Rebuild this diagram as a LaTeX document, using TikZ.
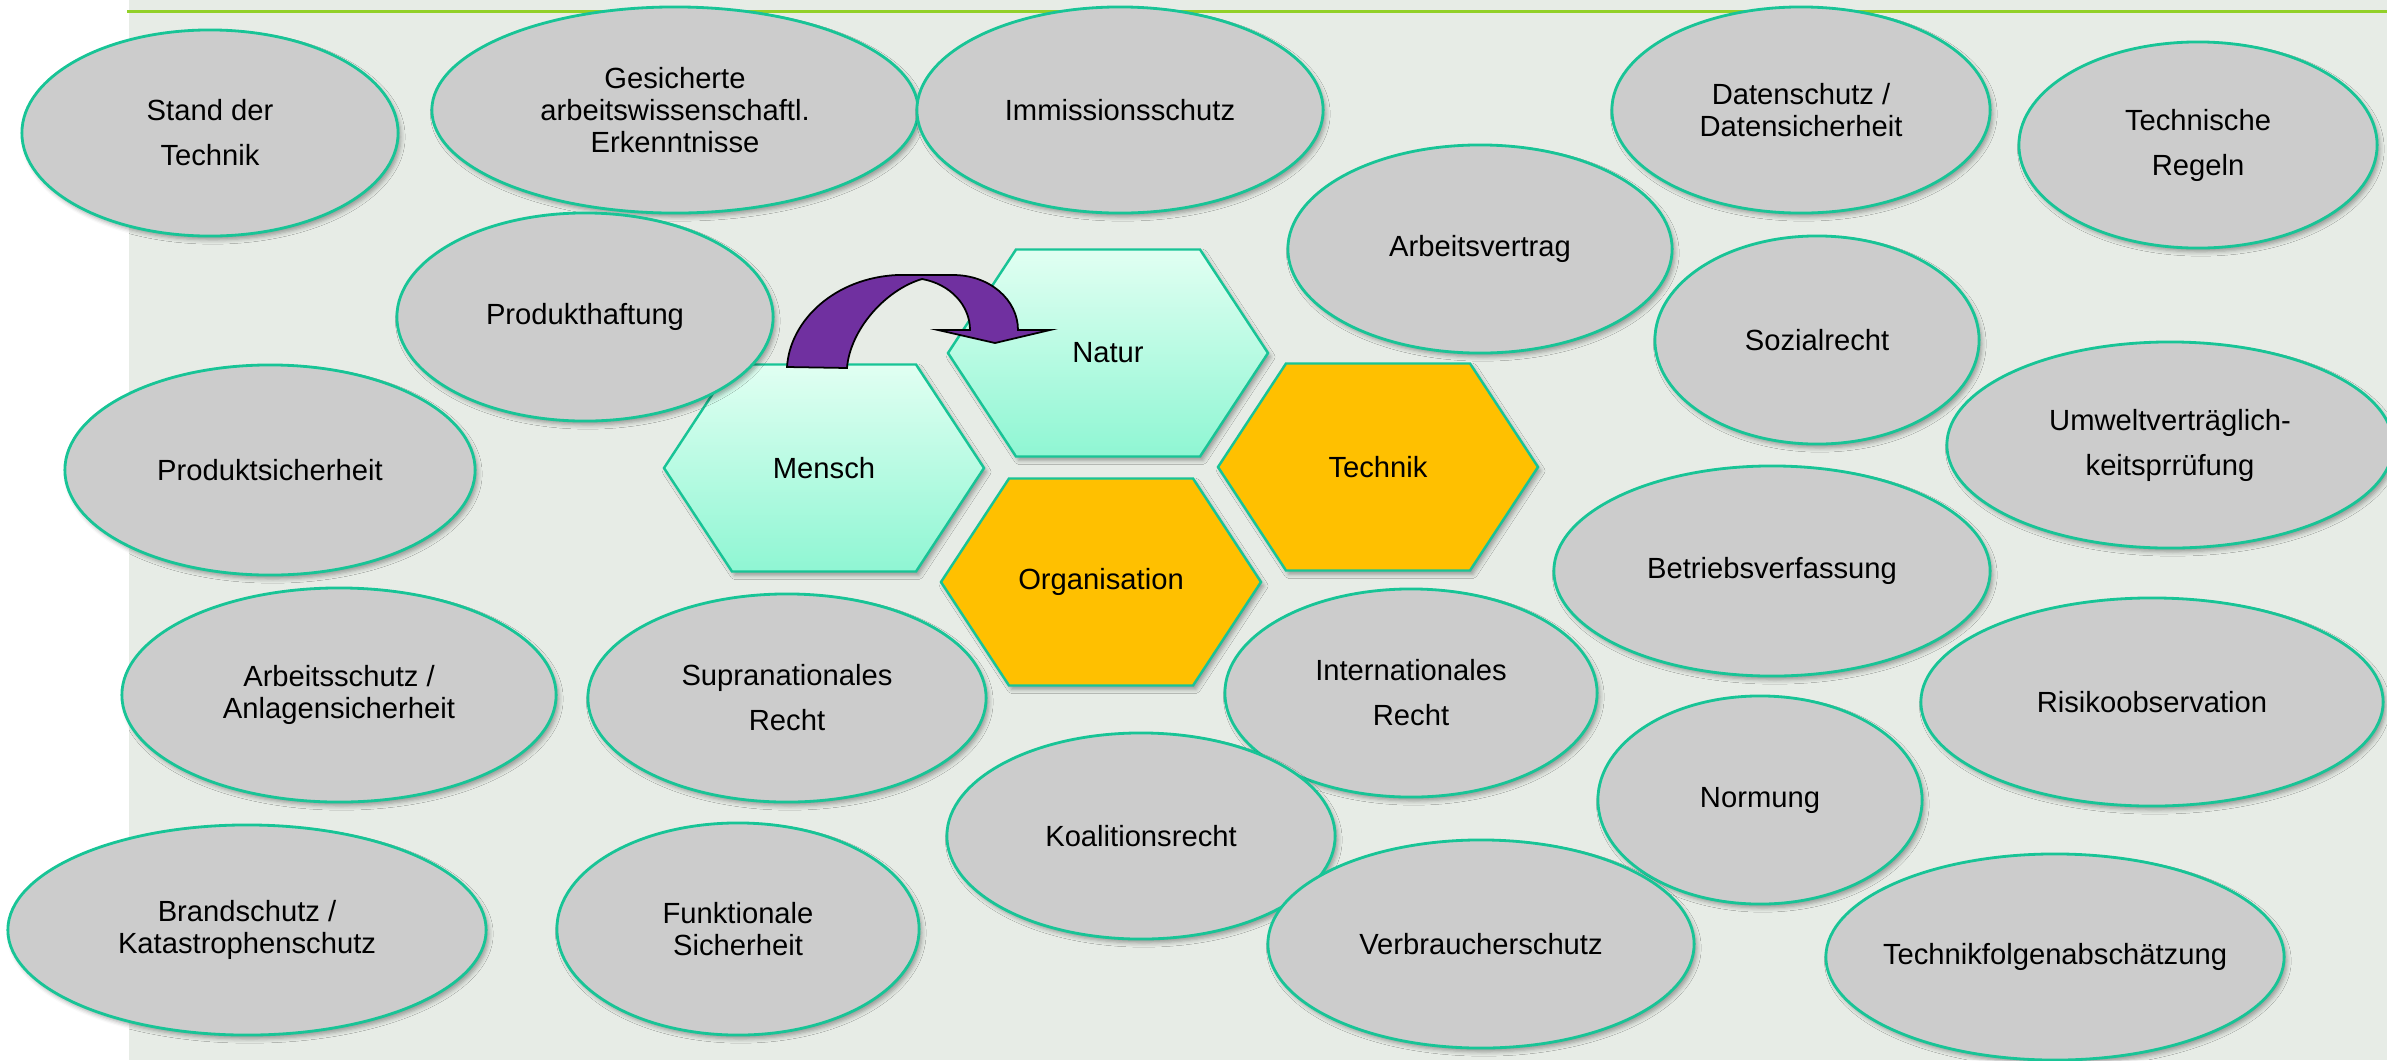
\documentclass[tikz,border=0pt]{standalone}
\usepackage{fontspec}
\setmainfont{Liberation Sans}
\usetikzlibrary{shapes.geometric, shadows.blur}

\definecolor{paper}{RGB}{231,236,230}
\definecolor{topline}{RGB}{146,208,40}
\definecolor{rim}{RGB}{24,196,150}
\definecolor{bubblegray}{RGB}{204,204,204}
\definecolor{minttop}{RGB}{225,255,242}
\definecolor{mintbottom}{RGB}{143,246,211}
\definecolor{amber}{RGB}{255,192,0}
\definecolor{violet}{RGB}{112,48,160}

\begin{document}
\begin{tikzpicture}[x=0.01cm, y=-0.01cm,
	bubble/.style={ellipse, draw=rim, line width=0.8pt, fill=bubblegray,
		inner xsep=-10pt, inner ysep=0pt, align=center,
		font=\fontsize{8.3}{9.1}\selectfont,
		blur shadow={shadow xshift=0.8pt, shadow yshift=-1.1pt, shadow blur radius=1.2pt, shadow opacity=35}},
	loose/.style={font=\fontsize{8.3}{12.8}\selectfont},
	cell/.style={draw=rim, line width=0.7pt,
		blur shadow={shadow xshift=0.8pt, shadow yshift=-1.1pt, shadow blur radius=1.2pt, shadow opacity=35}},
	cellmint/.style={top color=minttop, bottom color=mintbottom},
	cellamber/.style={fill=amber},
	celltext/.style={font=\fontsize{8.3}{9.1}\selectfont},
	swing/.style={draw=black, line width=0.5pt, fill=violet}]
	\useasboundingbox (0,0) rectangle (2387,1060);
	% page background and rule
	\fill[paper] (129,0) rectangle (2387,1060);
	\draw[topline, line width=0.85pt] (127,11) -- (2387,11);

	% honeycomb in the middle
	\foreach \cx/\cy/\nm/\txt/\look in {824/468/mensch/Mensch/cellmint,
		1108/353/natur/Natur/cellmint,
		1101/582/orga/Organisation/cellamber,
		1378/467/technik/Technik/cellamber}
	{
		\draw[cell, \look] (\cx-160,\cy) -- ++(68,-103.5) -- ++(184,0) -- ++(68,103.5)
			-- ++(-68,103.5) -- ++(-184,0) -- cycle;
		\node[celltext] (\nm) at (\cx,\cy) {\txt};
	}

	% top row
	\node[bubble, loose, minimum width=3.76cm, minimum height=2.06cm] (stand) at (210,133) {Stand der\\Technik};
	\node[bubble, minimum width=4.86cm, minimum height=2.06cm] (gesichert) at (675,110) {Gesicherte\\arbeitswissenschaftl.\\Erkenntnisse};
	\node[bubble, minimum width=4.06cm, minimum height=2.06cm] (immission) at (1120,110) {Immissionsschutz};
	\node[bubble, minimum width=3.78cm, minimum height=2.06cm] (daten) at (1801,110) {Datenschutz /\\Datensicherheit};
	\node[bubble, loose, minimum width=3.58cm, minimum height=2.06cm] (regeln) at (2198,145) {Technische\\Regeln};
	% second row
	\node[bubble, minimum width=3.76cm, minimum height=2.08cm] (haftung) at (585,317) {Produkthaftung};
	\node[bubble, minimum width=3.84cm, minimum height=2.08cm] (vertrag) at (1480,249) {Arbeitsvertrag};
	\node[bubble, minimum width=3.24cm, minimum height=2.08cm] (sozial) at (1817,340) {Sozialrecht};
	\node[bubble, minimum width=4.10cm, minimum height=2.10cm] (produkt) at (270,470) {Produktsicherheit};
	\node[bubble, loose, minimum width=4.46cm, minimum height=2.06cm] (umwelt) at (2170,445) {Umweltverträglich-\\keitsprrüfung};
	\node[bubble, minimum width=4.36cm, minimum height=2.10cm] (betrieb) at (1772,571) {Betriebsverfassung};
	% third row
	\node[bubble, minimum width=4.34cm, minimum height=2.14cm] (arbeit) at (339,695) {Arbeitsschutz /\\Anlagensicherheit};
	\node[bubble, loose, minimum width=3.98cm, minimum height=2.08cm] (supra) at (787,698) {Supranationales\\Recht};
	\node[bubble, loose, minimum width=3.72cm, minimum height=2.08cm] (intern) at (1411,693) {Internationales\\Recht};
	\node[bubble, minimum width=4.62cm, minimum height=2.08cm] (risiko) at (2152,702) {Risikoobservation};
	\node[bubble, minimum width=3.24cm, minimum height=2.08cm] (normung) at (1760,800) {Normung};
	% bottom row
	\node[bubble, minimum width=3.88cm, minimum height=2.06cm] (koalition) at (1141,836) {Koalitionsrecht};
	\node[bubble, minimum width=4.78cm, minimum height=2.10cm] (brand) at (247,930) {Brandschutz /\\Katastrophenschutz};
	\node[bubble, minimum width=3.62cm, minimum height=2.12cm] (funktion) at (738,929) {Funktionale\\Sicherheit};
	\node[bubble, minimum width=4.26cm, minimum height=2.08cm] (verbraucher) at (1481,944) {Verbraucherschutz};
	\node[bubble, minimum width=4.58cm, minimum height=2.06cm] (folgen) at (2055,957) {Technikfolgenabschätzung};

	% curved arrow from Mensch over to Natur
	\draw[swing] (787,367) .. controls (790,320) and (835,278) .. (897,275) -- (953,275)
		.. controls (990,275) and (1018,300) .. (1018,330) -- (1050,330) -- (995,343)
		-- (938,330) -- (970,330) .. controls (970,305) and (950,284) .. (922,279)
		.. controls (885,290) and (850,330) .. (847,368) -- cycle;
\end{tikzpicture}
\end{document}
